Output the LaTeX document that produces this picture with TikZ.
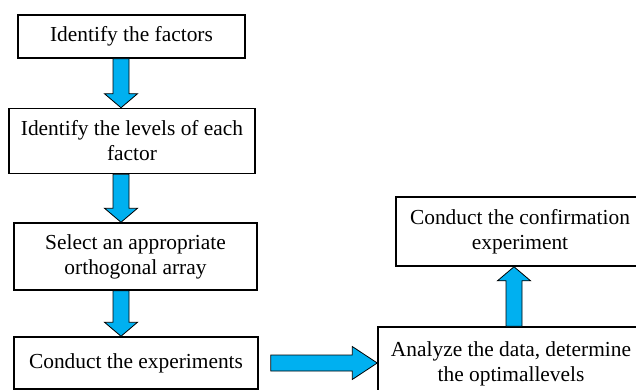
\documentclass[tikz,border=0pt]{standalone}
\usepackage{fontspec}
\setmainfont{Liberation Serif}
\usepackage{xcolor}
\definecolor{arrowblue}{RGB}{0,176,240}
\usepackage{tikz}
\usetikzlibrary{positioning,calc}

\tikzset{
  stepbox/.style={draw, line width=1.5pt, fill=white, align=center, inner sep=0pt,
    font=\fontsize{21.4}{25}\selectfont},
  flowarrow/.style={draw=black, line width=0.8pt, fill=arrowblue, line join=miter}
}
% block arrow: [head length]{from}{to}
\newcommand{\blockarrow}[3][14pt]{%
  \draw[flowarrow] let \p1=(#2), \p2=(#3),
    \n1={atan2(\y2-\y1,\x2-\x1)}, \n2={veclen(\x2-\x1,\y2-\y1)} in
    [shift={(\p1)}, rotate=\n1]
    (0pt,-8pt) -- ({\n2*1pt-#1},-8pt) -- ({\n2*1pt-#1},-16.5pt) -- ({\n2*1pt},0pt)
    -- ({\n2*1pt-#1},16.5pt) -- ({\n2*1pt-#1},8pt) -- (0pt,8pt) -- cycle;}

\begin{document}
\begin{tikzpicture}[x=1pt, y=-1pt]
    \useasboundingbox (0,0) rectangle (636,390);
    \clip (0,0) rectangle (636,390);
    % left column
    \node[stepbox, minimum width=227pt, minimum height=43pt] (factors) at (131.5,36.5) {Identify the factors};
    \node[stepbox, minimum width=246pt, minimum height=65pt] (levels) at (132,141) {Identify the levels of each\\factor};
    \node[stepbox, minimum width=243pt, minimum height=67pt] (array) at (135.5,256.5) {Select an appropriate\\orthogonal array};
    \node[stepbox, minimum width=244pt, minimum height=52pt] (experiments) at (136,363) {Conduct the experiments};
    % right column
    \node[stepbox, minimum width=248pt, minimum height=69pt] (confirm) at (520,231.5) {Conduct the confirmation\\experiment};
    \node[stepbox, minimum width=266pt, minimum height=73pt] (analyze) at (511,363.5) {Analyze the data, determine\\the optimallevels};
    % arrows
    \coordinate (downaxis) at (121,0);
    \coordinate (upaxis) at (514,0);
    \coordinate[right=12pt of experiments.east] (hstart);
    \blockarrow{factors.south -| downaxis}{levels.north -| downaxis}
    \blockarrow{levels.south -| downaxis}{array.north -| downaxis}
    \blockarrow{array.south -| downaxis}{experiments.north -| downaxis}
    \blockarrow[25pt]{hstart}{analyze.west |- hstart}
    \blockarrow{analyze.north -| upaxis}{confirm.south -| upaxis}
\end{tikzpicture}
\end{document}
